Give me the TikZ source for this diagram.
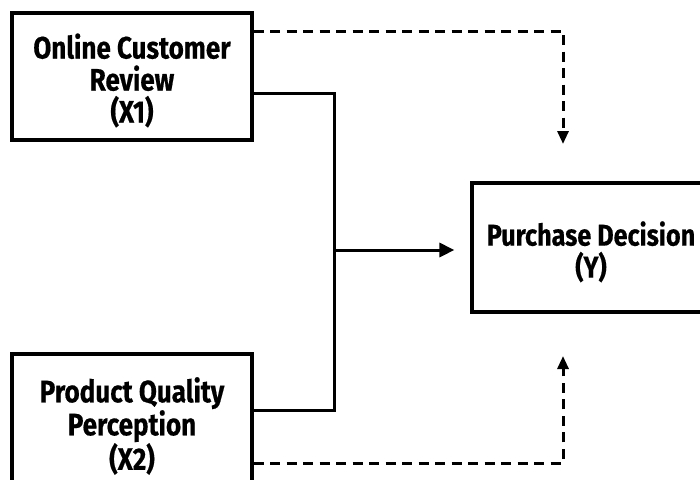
\documentclass[tikz,border=0pt]{standalone}
\usepackage{fontspec}
\newfontfamily\boxfont[FakeStretch=0.84,BoldFeatures={FakeBold=0.5}]{Fira Sans}
\usetikzlibrary{arrows.meta}
\begin{document}
\begin{tikzpicture}[x=1pt,y=-1pt,
  varbox/.style={draw=black,line width=3.2pt,rectangle,inner sep=0pt,
    font=\boxfont\bfseries\fontsize{31}{32}\selectfont,align=center,text=black},
  link/.style={draw=black,line width=3pt},
  dlink/.style={draw=black,line width=3pt,dash pattern=on 10pt off 6.5pt},
  tip/.style={-{Triangle[length=15pt,width=14pt]}},
  dtip/.style={-{Triangle[length=13pt,width=11pt]}}]
\useasboundingbox (0,0) rectangle (700,479);
\clip (0,0) rectangle (700,479);
\fill[white] (0,0) rectangle (700,479);
\node[varbox,minimum width=240pt,minimum height=127pt] (x1) at (132,76.5) {\rule{0pt}{33pt}Online Customer\\Review\\(X1)};
\node[varbox,minimum width=240pt,minimum height=136pt] (x2) at (132,422) {\rule{0pt}{33pt}Product Quality\\Perception\\(X2)};
\node[varbox,minimum width=238pt,minimum height=129pt,
  font=\boxfont\bfseries\fontsize{30}{32}\selectfont] (y) at (591,247.5) {\rule{0pt}{33pt}Purchase Decision\\(Y)};
\coordinate (j) at (334,250);
\coordinate (yt) at (563,183);
\coordinate (yb) at (563,312);
\draw[link] (x1.east |- 0,93) -| (j);
\draw[link] (x2.east |- 0,410) -| (j);
\draw[link,tip,shorten >=16pt] (j) -- (y.west |- j);
\draw[dlink,dtip,shorten >=39pt] (x1.east |- 0,31) -| (yt);
\draw[dlink,dtip,shorten >=44pt] (x2.east |- 0,463) -| (yb);
\end{tikzpicture}
\end{document}
